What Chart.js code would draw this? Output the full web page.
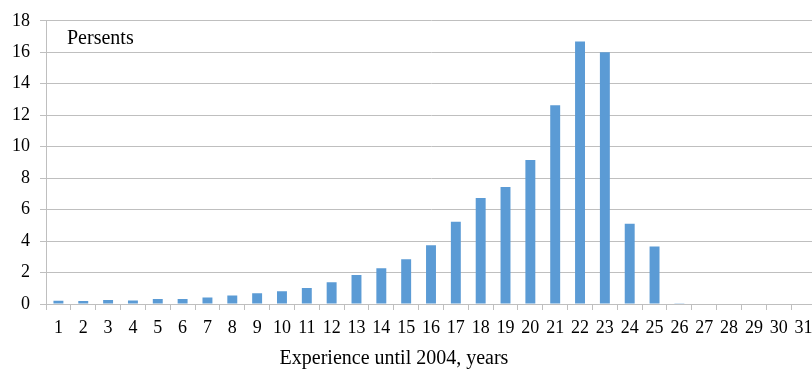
<!DOCTYPE html>
<html>
<head>
<meta charset="utf-8">
<script src="https://cdn.jsdelivr.net/npm/chart.js@4/dist/chart.umd.min.js"></script>
<style>
  html, body { margin: 0; padding: 0; background: #fff; overflow: hidden; }
  #wrap { width: 812px; height: 372px; overflow: hidden; position: relative; }
  canvas { display: block; }
</style>
</head>
<body>
<div id="wrap"><canvas id="c" width="820" height="372"></canvas></div>
<script>
// Experience categories (years until 2004)
const years = ['1','2','3','4','5','6','7','8','9','10','11','12','13','14','15','16',
               '17','18','19','20','21','22','23','24','25','26','27','28','29','30','31'];
// Share of respondents, percent
const shares = [0.20, 0.19, 0.25, 0.23, 0.31, 0.31, 0.42, 0.54, 0.68, 0.81, 1.02, 1.39,
                1.85, 2.28, 2.85, 3.73, 5.22, 6.73, 7.44, 9.15, 12.63, 16.69, 16.0,
                5.10, 3.65, 0.05, 0, 0, 0, 0, 0];
const yTicks = [0, 2, 4, 6, 8, 10, 12, 14, 16, 18];

const serif = '"Liberation Serif", "Times New Roman", serif';
const gridColor = '#bfbfbf';

// Unit caption inside the plot and the axis caption below it
const captions = {
  id: 'captions',
  afterDraw(chart) {
    const ctx = chart.ctx;
    const a = chart.chartArea;
    ctx.save();
    ctx.fillStyle = '#000';
    ctx.font = '20px ' + serif;
    ctx.textBaseline = 'alphabetic';
    ctx.textAlign = 'left';
    ctx.fillText('Persents', a.left + 21, a.top + 23.5);
    ctx.textAlign = 'center';
    ctx.fillText('Experience until 2004, years', 394, 364);
    ctx.restore();
  }
};

new Chart(document.getElementById('c'), {
  type: 'bar',
  data: {
    labels: years,
    datasets: [{
      data: shares,
      backgroundColor: '#5b9bd5',
      borderWidth: 0,
      barPercentage: 0.8,
      categoryPercentage: 0.5
    }]
  },
  options: {
    responsive: false,
    animation: false,
    layout: { padding: { top: 16, right: 4, bottom: 0, left: 0 } },
    plugins: { legend: { display: false }, tooltip: { enabled: false } },
    scales: {
      x: {
        offset: true,
        grid: { display: true, drawOnChartArea: false, drawTicks: true, tickLength: 6, color: gridColor, offset: true },
        border: { display: true, color: gridColor },
        ticks: { color: '#000', font: { family: serif, size: 18 }, padding: 7, maxRotation: 0, autoSkip: false },
        afterFit(scale) { scale.height = 68; }
      },
      y: {
        min: 0,
        max: 18,
        afterBuildTicks(scale) { scale.ticks = yTicks.map(v => ({ value: v })); },
        grid: { color: gridColor, tickLength: 6, drawTicks: true },
        border: { display: true, color: gridColor },
        ticks: { color: '#000', font: { family: serif, size: 18 }, padding: 10 },
        afterFit(scale) { scale.width = 46; }
      }
    }
  },
  plugins: [captions]
});
</script>
</body>
</html>
